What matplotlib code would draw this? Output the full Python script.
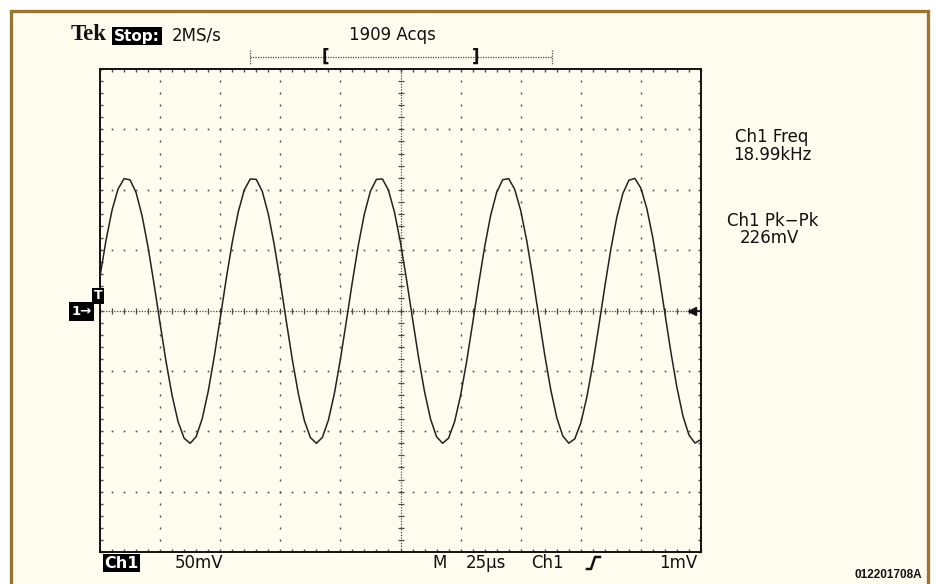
import numpy as np
import matplotlib
matplotlib.use("Agg")
import matplotlib.pyplot as plt
from matplotlib.patches import Rectangle
from matplotlib.lines import Line2D

SAMPLE_STEP_US = 2.5          # spacing of the read-off samples
ch1_mv = [28.1, 58.1, 83.0, 100.6, 109.2, 108.2, 97.7, 78.5, 52.4, 21.7,
          -10.9, -42.6, -70.5, -92.2, -105.8, -110.0, -104.5, -89.7, -67.1, -38.5,
          -6.5, 26.1, 56.3, 81.6, 99.7, 108.9, 108.6, 98.7, 80.0, 54.3,
          23.8, -8.9, -40.7, -68.9, -91.1, -105.2, -110.0, -105.1, -90.9, -68.7,
          -40.4, -8.6, 24.0, 54.5, 80.2, 98.8, 108.6, 108.9, 99.6, 81.4,
          56.1, 25.8, -6.8, -38.7, -67.3, -89.9, -104.5, -110.0, -105.7, -92.1,
          -70.3, -42.4, -10.7, 22.0, 52.7, 78.8, 97.8, 108.3, 109.2, 100.4,
          82.8, 57.9, 27.8, -4.7, -36.8, -65.6, -88.7, -103.9, -109.9, -106.3,
          -93.2, -71.9, -44.3, -12.8, 19.9, 50.8, 77.3, 96.9, 107.9, 109.4,
          101.3, 84.2, 59.7, 29.9, -2.6, -34.8, -63.9, -87.4, -103.2, -109.8,
          -106.8]
time_per_div_us = 25
volts_per_div_mv = 50
n_div_x = 10
n_div_y = 8

header_left = ["Tek", "Stop:", "2MS/s"]
acq_text = "1909 Acqs"
meas_labels = ["Ch1 Freq", "18.99kHz", "Ch1 Pk\u2212Pk", "226mV"]
bottom_labels = ["Ch1", "50mV", "M", "25\u00b5s", "Ch1", "1mV"]
figure_id = "012201708A"

# ---------------- figure ----------------
W, H = 936, 584
fig = plt.figure(figsize=(W / 100, H / 100), dpi=100, facecolor="white")

def fx(x):
    return x / W

def fy(y):
    return 1 - y / H

CREAM = "#FEFCEF"
BROWN = "#9A7432"
INK = "#111111"
DOT = "#4a4a4a"

# panel with brown border
fig.add_artist(Rectangle((fx(10.5), fy(640)), fx(927.5) - fx(10.5), fy(10.5) - fy(640),
                         transform=fig.transFigure, facecolor=CREAM, edgecolor=BROWN,
                         linewidth=2.4, zorder=0))

ax = fig.add_axes([fx(100), fy(552), (701 - 100) / W, (552 - 69) / H])
ax.set_facecolor(CREAM)
xmax = time_per_div_us * n_div_x
ymax = volts_per_div_mv * n_div_y / 2
ax.set_xlim(0, xmax)
ax.set_ylim(-ymax, ymax)

sub_x = time_per_div_us / 5
sub_y = volts_per_div_mv / 5
xs_sub = np.arange(0, xmax + 0.01, sub_x)
ys_sub = np.arange(-ymax, ymax + 0.01, sub_y)

# graticule: dotted division lines
for i in range(1, n_div_x):
    xv = i * time_per_div_us
    if i == n_div_x // 2:
        continue
    ax.plot(np.full_like(ys_sub, xv), ys_sub, ls="none", marker="|", ms=1.6,
            color=DOT, mew=1.0)
for j in range(1, n_div_y):
    yv = -ymax + j * volts_per_div_mv
    if j == n_div_y // 2:
        continue
    ax.plot(xs_sub, np.full_like(xs_sub, yv), ls="none", marker="s", ms=1.2,
            color=DOT, mew=0)

# center lines with sub-division marks
ax.axhline(0, color=DOT, lw=0.9, ls=(0, (1, 1.2)))
ax.axvline(xmax / 2, color=DOT, lw=0.9, ls=(0, (1, 1.2)))
ax.plot(xs_sub, np.zeros_like(xs_sub), ls="none", marker="|", ms=5, mew=0.9, color=DOT)
ax.plot(np.full_like(ys_sub, xmax / 2), ys_sub, ls="none", marker="_", ms=5, mew=0.9, color=DOT)

# edge ticks
ax.set_xticks(xs_sub)
ax.set_yticks(ys_sub)
ax.tick_params(direction="in", length=2.5, width=1, color=DOT,
               top=True, right=True, labelbottom=False, labelleft=False)
for s in ax.spines.values():
    s.set_color(INK)
    s.set_linewidth(1.4)

# waveform
t = np.arange(len(ch1_mv)) * SAMPLE_STEP_US
ax.plot(t, ch1_mv, color="#222222", lw=1.1, zorder=5)

# trigger level marker on the right
ax.plot([xmax * 0.985], [0], marker="<", ms=6, color=INK, clip_on=False, zorder=6)
ax.plot([xmax * 0.985, xmax], [0, 0], color=INK, lw=1.2, clip_on=False, zorder=6)

# ---------------- texts ----------------
osc = dict(family="DejaVu Sans", fontsize=12, color=INK)
fig.text(fx(71), fy(35), header_left[0], family="Liberation Serif", fontweight="bold",
         fontsize=16.5, ha="left", va="center", color=INK)
fig.text(fx(114), fy(36), header_left[1], family="DejaVu Sans", fontweight="bold",
         fontsize=11, ha="left", va="center", color="white",
         bbox=dict(boxstyle="square,pad=0.12", fc="black", ec="none"))
fig.text(fx(172), fy(35), header_left[2], ha="left", va="center", **osc)
fig.text(fx(392), fy(35), acq_text, ha="center", va="center", **osc)

# record view bar
fig.add_artist(Line2D([fx(250), fx(552)], [fy(57), fy(57)], transform=fig.transFigure,
                      color=DOT, lw=0.9, ls=(0, (1, 1))))
for xb in (250, 552):
    fig.add_artist(Line2D([fx(xb), fx(xb)], [fy(50), fy(64)], transform=fig.transFigure,
                          color=DOT, lw=0.9, ls=(0, (1, 1))))
fig.text(fx(325), fy(57), "[", ha="center", va="center", family="DejaVu Sans",
         fontweight="bold", fontsize=12, color=INK)
fig.text(fx(476), fy(57), "]", ha="center", va="center", family="DejaVu Sans",
         fontweight="bold", fontsize=12, color=INK)

# measurements
fig.text(fx(772), fy(137), meas_labels[0], ha="center", va="center", **osc)
fig.text(fx(772), fy(155), meas_labels[1], ha="center", va="center", **osc)
fig.text(fx(773), fy(221), meas_labels[2], ha="center", va="center", **osc)
fig.text(fx(769), fy(238), meas_labels[3], ha="center", va="center", **osc)

# channel markers on the left
fig.text(fx(81.5), fy(311.5), "1\u2192", ha="center", va="center", family="DejaVu Sans",
         fontweight="bold", fontsize=9.5, color="white",
         bbox=dict(boxstyle="square,pad=0.2", fc="black", ec="none"))
fig.text(fx(98), fy(295.5), "T", ha="center", va="center", family="DejaVu Sans",
         fontweight="bold", fontsize=9, color="white",
         bbox=dict(boxstyle="square,pad=0.12", fc="black", ec="none"))

# bottom status line
fig.text(fx(104), fy(563), bottom_labels[0], ha="left", va="center", family="DejaVu Sans",
         fontweight="bold", fontsize=11.5, color="white",
         bbox=dict(boxstyle="square,pad=0.08", fc="black", ec="none"))
fig.text(fx(175), fy(563), bottom_labels[1], ha="left", va="center", **osc)
fig.text(fx(432), fy(563), bottom_labels[2], ha="left", va="center", **osc)
fig.text(fx(466), fy(563), bottom_labels[3], ha="left", va="center", **osc)
fig.text(fx(531), fy(563), bottom_labels[4], ha="left", va="center", **osc)
fig.add_artist(Line2D([fx(587), fx(591), fx(595), fx(600)],
                      [fy(569), fy(569), fy(557), fy(557)],
                      transform=fig.transFigure, color=INK, lw=1.8))
fig.text(fx(697), fy(563), bottom_labels[5], ha="right", va="center", **osc)

fig.text(fx(922), fy(575), figure_id, ha="right", va="center", family="Liberation Sans",
         fontweight="bold", fontsize=8.5, color=INK)

fig.savefig("out.png", dpi=100, facecolor="white")
